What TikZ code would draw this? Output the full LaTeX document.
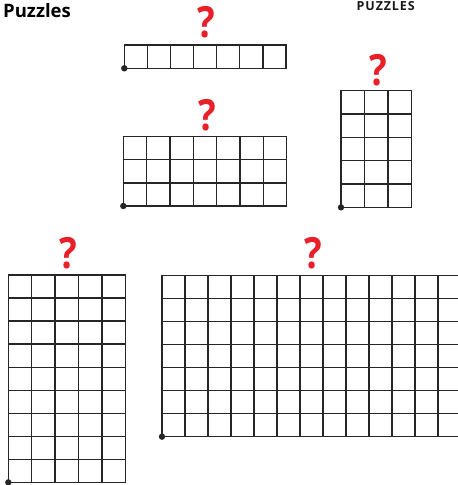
\documentclass[tikz,border=0pt]{standalone}
\usepackage{fontspec}
\setmainfont{Open Sans}
\definecolor{qred}{HTML}{E8202A}
\definecolor{gline}{HTML}{262626}
\newcommand{\puzzlegrid}[6]{%
  % #1 x0, #2 y0 (top-left), #3 cols, #4 rows, #5 cell width, #6 cell height
  \foreach \i in {0,...,#3}{\draw[gridline] ({#1+\i*#5},#2) -- ({#1+\i*#5},{#2+#4*#6});}
  \foreach \j in {0,...,#4}{\draw[gridline] (#1,{#2+\j*#6}) -- ({#1+#3*#5},{#2+\j*#6});}
  \fill[gline] (#1,{#2+#4*#6}) circle (3.2);
}
\newcommand{\qm}{\scalebox{0.86}[1]{?}}
\begin{document}
\begin{tikzpicture}[x=1pt,y=-1pt,
  gridline/.style={draw=gline,line width=1.3pt,line cap=rect},
  qmark/.style={text=qred,font=\fontsize{43}{43}\selectfont\bfseries,anchor=base,inner sep=0pt},
  title/.style={font=\fontsize{18.5}{18.5}\selectfont\bfseries,anchor=base west,inner sep=0pt,text=black}]
\useasboundingbox (0,0) rectangle (458,485);
\clip (0,0) rectangle (458,485);
\node[title] (title) at (3,17) {Puzzles};
\node[font={\fontsize{12.5}{12.5}\selectfont\bfseries\addfontfeature{LetterSpace=7}},anchor=base west,inner sep=0pt,text=black!90] (label) at (356.5,10.9) {PUZZLES};
% grid 1
\puzzlegrid{124.3}{45}{7}{1}{23.1}{23.3}
\node[qmark] (q1) at (206.7,37) {\qm};
% grid 2
\puzzlegrid{123.3}{136.7}{7}{3}{23.33}{23.1}
\node[qmark] (q2) at (207,130) {\qm};
% grid 3
\puzzlegrid{341}{90.7}{3}{5}{23.43}{23.33}
\node[qmark] (q3) at (378,85) {\qm};
% grid 4
\puzzlegrid{8.3}{275}{5}{9}{23.4}{23.04}
\node[qmark] (q4) at (68,268) {\qm};
% grid 5
\puzzlegrid{162}{275.3}{13}{7}{23.0}{23.05}
\node[qmark] (q5) at (313,268) {\qm};
\end{tikzpicture}
\end{document}
